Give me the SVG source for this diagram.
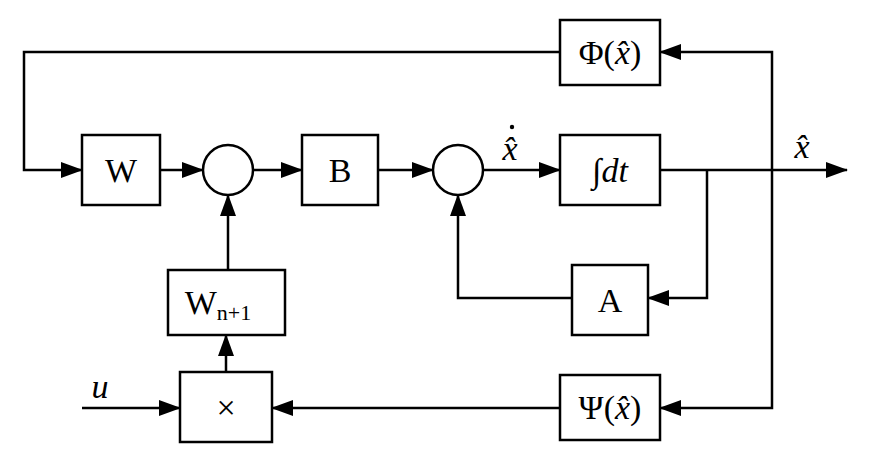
<svg xmlns="http://www.w3.org/2000/svg" width="878" height="459" viewBox="0 0 878 459">
<style>
.b{fill:#fff;stroke:#000;stroke-width:2.5}
.l{fill:none;stroke:#000;stroke-width:2.5}
text{font-family:"Liberation Serif",serif;font-size:34px;text-anchor:middle}
.i{font-style:italic}
</style>
<defs><marker id="a" markerWidth="22" markerHeight="16" refX="21" refY="8" orient="auto" markerUnits="userSpaceOnUse"><path d="M0,0L22,8L0,16z" fill="#000"/></marker></defs>
<g id="connectors" class="l">
<path d="M560,52H24V170H82" marker-end="url(#a)"/>
<path d="M160,170H203" marker-end="url(#a)"/>
<path d="M253,170H302" marker-end="url(#a)"/>
<path d="M378,170H433" marker-end="url(#a)"/>
<path d="M483,170H560" marker-end="url(#a)"/>
<path d="M660,170H847" marker-end="url(#a)"/>
<path d="M707,170V298H648" marker-end="url(#a)"/>
<path d="M572,298H458V195" marker-end="url(#a)"/>
<path d="M772,170V52H660" marker-end="url(#a)"/>
<path d="M772,170V408H660" marker-end="url(#a)"/>
<path d="M560,408H272" marker-end="url(#a)"/>
<path d="M82,408H180" marker-end="url(#a)"/>
<path d="M226,372V335" marker-end="url(#a)"/>
<path d="M228,270V195" marker-end="url(#a)"/>
</g>
<g id="phi"><rect class="b" x="560" y="20" width="100" height="65"/><text x="610" y="64">Φ(<tspan class="i">x̂</tspan>)</text></g>
<g id="W"><rect class="b" x="82" y="135" width="78" height="70"/><text x="121" y="182">W</text></g>
<g id="sum1"><circle class="b" cx="228" cy="170" r="25"/></g>
<g id="B"><rect class="b" x="302" y="135" width="76" height="70"/><text x="340" y="182">B</text></g>
<g id="sum2"><circle class="b" cx="458" cy="170" r="25"/></g>
<g id="int"><rect class="b" x="560" y="135" width="100" height="70"/><text x="610" y="182">∫<tspan class="i">dt</tspan></text></g>
<g id="A"><rect class="b" x="572" y="265" width="76" height="70"/><text x="610" y="312">A</text></g>
<g id="Wn1"><rect class="b" x="168" y="270" width="117" height="65"/><text x="218" y="314">W<tspan font-size="22" dy="6">n+1</tspan></text></g>
<g id="mul"><rect class="b" x="180" y="372" width="92" height="70"/><text x="226" y="419">×</text></g>
<g id="psi"><rect class="b" x="560" y="375" width="100" height="65"/><text x="610" y="419">Ψ(<tspan class="i">x̂</tspan>)</text></g>
<text class="i" x="510" y="160">x̂</text><circle cx="512" cy="127" r="2.2"/>
<text class="i" x="802" y="158">x̂</text>
<text class="i" x="100" y="398">u</text>
</svg>
